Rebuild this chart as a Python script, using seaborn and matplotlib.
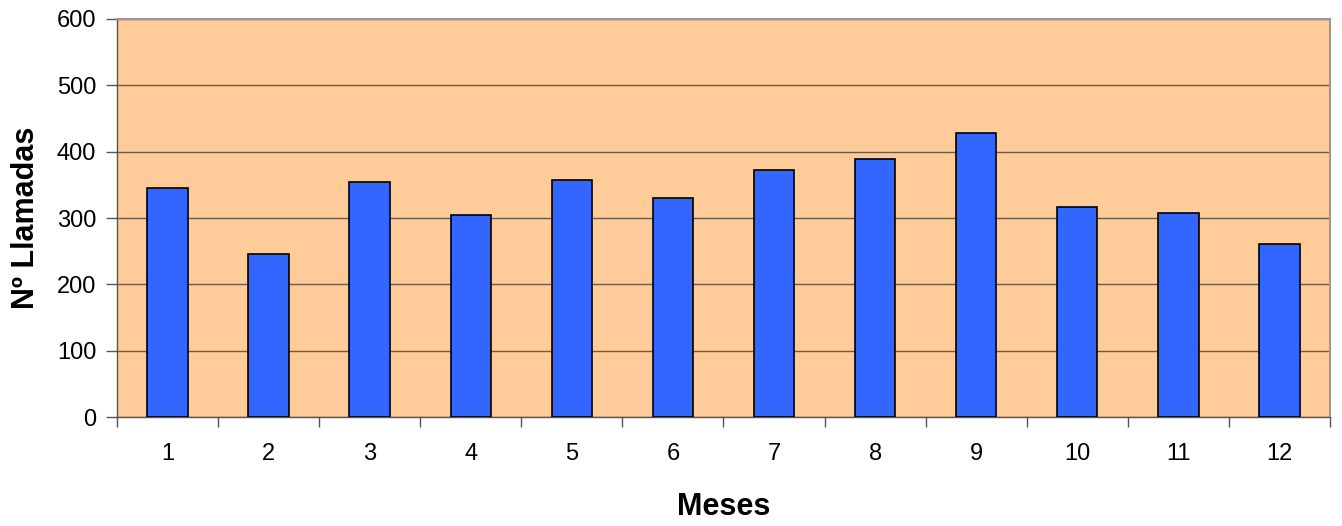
import matplotlib
matplotlib.use("Agg")
import matplotlib.pyplot as plt
import numpy as np
import pandas as pd
import seaborn as sns

# Data
meses = [1, 2, 3, 4, 5, 6, 7, 8, 9, 10, 11, 12]
llamadas = [345, 246, 354, 305, 357, 330, 372, 389, 428, 317, 308, 261]

df = pd.DataFrame({"Meses": meses, "Llamadas": llamadas})

sns.set_style("white")
plt.rcParams["font.family"] = ["Liberation Sans", "DejaVu Sans"]
plt.rcParams["text.color"] = "black"
plt.rcParams["xtick.color"] = "black"
plt.rcParams["ytick.color"] = "black"
plt.rcParams["axes.labelcolor"] = "black"

fig = plt.figure(figsize=(13.42, 5.26), dpi=100)
ax = fig.add_axes([0.0872, 0.2072, 0.9038, 0.7567])
ax.set_facecolor("#FFCC99")

sns.barplot(
    data=df,
    x="Meses",
    y="Llamadas",
    color="#3366FF",
    saturation=1,
    width=0.4,
    edgecolor="black",
    linewidth=1.2,
    ax=ax,
    zorder=3,
)

ax.set_ylim(0, 600)
ax.set_xlim(-0.5, len(meses) - 0.5)
ax.set_yticks(np.arange(0, 601, 100))
ax.yaxis.grid(True, color="#6b5a4a", linewidth=1, zorder=0)
ax.set_axisbelow(True)

# Excel-like ticks between categories
ax.set_xticks(np.arange(-0.5, len(meses), 1), minor=True)
ax.tick_params(axis="x", which="major", length=0, pad=19, labelsize=17)
ax.tick_params(axis="x", which="minor", length=7, width=1, color="#555555", direction="out")
ax.tick_params(axis="y", length=8, width=1, color="#555555", direction="out", labelsize=17, pad=7)
ax.xaxis.set_ticks_position("bottom")
ax.yaxis.set_ticks_position("left")

for side in ["left", "bottom"]:
    ax.spines[side].set_color("#555555")
    ax.spines[side].set_linewidth(1)
for side in ["top", "right"]:
    ax.spines[side].set_color("#999999")
    ax.spines[side].set_linewidth(1.5)

ax.set_xlabel("Meses", fontsize=22, fontweight="bold", labelpad=19)
ax.set_ylabel("Nº Llamadas", fontsize=22, fontweight="bold", labelpad=11)

fig.savefig("out.png", dpi=100)
